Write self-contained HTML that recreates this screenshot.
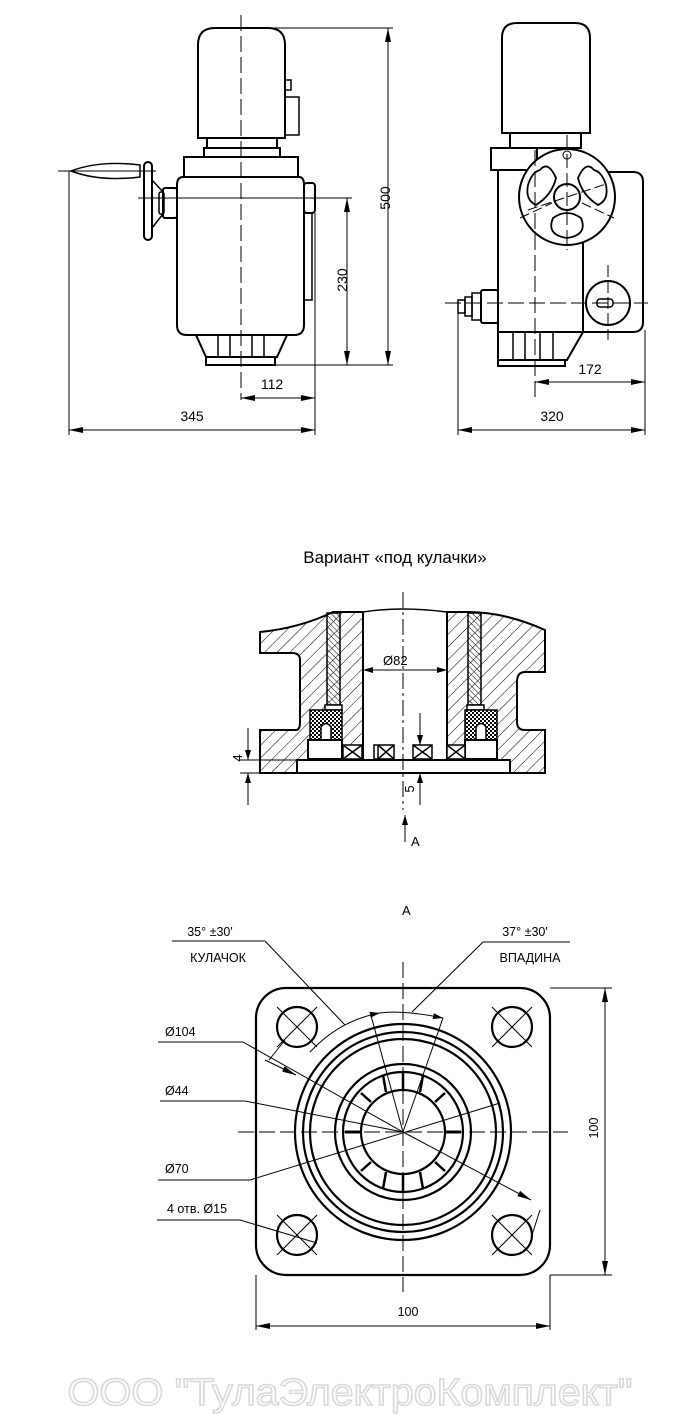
<!DOCTYPE html>
<html><head><meta charset="utf-8"><style>
html,body{margin:0;padding:0;background:#fff;}
svg{display:block;}
text{font-family:"Liberation Sans","DejaVu Sans",sans-serif;fill:#000;}
</style></head><body>
<svg width="700" height="1414" viewBox="0 0 700 1414" xmlns="http://www.w3.org/2000/svg">
<defs>
<pattern id="h" width="9" height="9" patternUnits="userSpaceOnUse" patternTransform="rotate(45)"><line x1="0" y1="0" x2="0" y2="9" stroke="#000" stroke-width="1"/></pattern>
<pattern id="h2" width="4" height="4" patternUnits="userSpaceOnUse" patternTransform="rotate(-45)"><line x1="0" y1="0" x2="0" y2="4" stroke="#000" stroke-width="1"/></pattern>
<pattern id="x" width="4" height="4" patternUnits="userSpaceOnUse"><rect width="4" height="4" fill="#fff"/><rect width="2" height="2" fill="#000"/><rect x="2" y="2" width="2" height="2" fill="#000"/></pattern>
<marker id="a" viewBox="0 0 10 6" refX="10" refY="3" markerWidth="10" markerHeight="6" orient="auto-start-reverse" markerUnits="userSpaceOnUse"><path d="M0,0 L10,3 L0,6 z" fill="#000"/></marker>
<marker id="b" viewBox="0 0 14 6" refX="14" refY="3" markerWidth="14" markerHeight="6" orient="auto-start-reverse" markerUnits="userSpaceOnUse"><path d="M0,0 L14,3 L0,6 z" fill="#000"/></marker>
</defs>

<g fill="none" stroke="#000" stroke-width="2">
<!-- LEFT VIEW -->
<path d="M198,138 V45 Q198,28 215,28 H268 Q285,28 285,45 V138 Z" fill="#fff"/>
<rect x="285" y="80" width="6" height="10" stroke-width="1.5"/>
<rect x="285" y="97" width="14" height="38" stroke-width="1.5"/>
<rect x="207" y="138" width="70" height="10"/>
<rect x="204" y="148" width="76" height="9"/>
<rect x="184" y="157" width="114" height="20"/>
<path d="M183,177 H299 Q304,177 304,185 V325 Q304,335 294,335 H187 Q177,335 177,325 V185 Q177,177 183,177 Z"/>
<rect x="304" y="183" width="11" height="30" rx="3"/>
<path d="M304,213 H312 V300 H304" stroke-width="1.5"/>
<rect x="163" y="188" width="14" height="30" rx="2"/>
<rect x="159" y="192" width="5" height="22" rx="2" stroke-width="1.5"/>
<path d="M163,192 L152,180 M163,214 L152,228" stroke-width="1.5"/>
<rect x="144" y="162" width="8" height="78" rx="4"/>
<path d="M71,171 Q100,160 140,165 V177 Q100,182 71,171 Z" stroke-width="1.5"/>
<line x1="58" y1="171" x2="156" y2="171" stroke-width="1"/>
<path d="M187,335 L196,335 L206,357 H277 L287,335 Z"/>
<path d="M196,335 L206,357 M287,335 L277,357 M218,335 V357 M230,335 V357 M252,335 V357 M264,335 V357" stroke-width="1.5"/>
<rect x="206" y="357" width="69" height="8"/>
<!-- right view -->
<path d="M502,133 V38 Q502,23 517,23 H575 Q590,23 590,38 V133 Z"/>
<rect x="510" y="133" width="71" height="15"/>
<rect x="491" y="148" width="46" height="22"/>
<path d="M498,170 V332 H583 M583,235 V332"/>
<path d="M583,172 H633 Q643,172 643,182 V322 Q643,332 633,332 H583"/>
<circle cx="567" cy="197" r="48" fill="#fff"/>
<circle cx="567" cy="197" r="13"/>
<path d="M540,170 Q548,160 556,178 Q552,195 536,205 Q525,200 528,185 Q532,172 540,170 Z" stroke-width="1.8"/>
<path d="M594,170 Q586,160 578,178 Q582,195 598,205 Q609,200 606,185 Q602,172 594,170 Z" stroke-width="1.8"/>
<path d="M553,218 Q567,208 581,218 Q588,235 567,238 Q546,235 553,218 Z" stroke-width="1.8"/>
<circle cx="567" cy="155" r="4" stroke-width="1"/>
<circle cx="608" cy="303" r="22"/>
<rect x="597" y="299" width="16" height="8" rx="3" stroke-width="1.5"/>
<rect x="481" y="290" width="17" height="33" rx="2"/>
<rect x="472" y="293" width="9" height="27" stroke-width="1.5"/>
<rect x="465" y="297" width="7" height="19" stroke-width="1.5"/>
<rect x="458" y="300" width="7" height="13" stroke-width="1.5"/>
<path d="M498,332 H583 L567,360 H498 Z"/>
<path d="M513,332 V360 M525,332 V360 M540,332 V360 M553,332 V360" stroke-width="1.5"/>
<rect x="498" y="360" width="67" height="6"/>
</g>
<g fill="none" stroke="#000" stroke-width="1">
<line x1="241" y1="15" x2="241" y2="400" stroke-dasharray="16,5"/>
<line x1="567" y1="135" x2="567" y2="250" stroke-dasharray="14,5"/>
<line x1="535" y1="150" x2="535" y2="398" stroke-dasharray="16,5"/>
<line x1="445" y1="303" x2="648" y2="303" stroke-dasharray="16,5"/>
<line x1="608" y1="265" x2="608" y2="340" stroke-dasharray="12,4"/>
<line x1="528" y1="210" x2="606" y2="184" stroke-dasharray="10,4"/>
<line x1="520" y1="218" x2="552" y2="203" stroke-dasharray="10,4"/>
<line x1="582" y1="203" x2="614" y2="218" stroke-dasharray="10,4"/>
<line x1="138" y1="198" x2="352" y2="198"/>
<line x1="245" y1="28" x2="393" y2="28"/>
<line x1="275" y1="365" x2="393" y2="365"/>
<line x1="347" y1="198" x2="347" y2="365" marker-start="url(#b)" marker-end="url(#b)"/>
<line x1="388" y1="28" x2="388" y2="365" marker-start="url(#b)" marker-end="url(#b)"/>
<line x1="69" y1="171" x2="69" y2="435"/>
<line x1="315" y1="213" x2="315" y2="435"/>
<line x1="241" y1="398" x2="315" y2="398" marker-start="url(#b)" marker-end="url(#b)"/>
<line x1="69" y1="430" x2="315" y2="430" marker-start="url(#b)" marker-end="url(#b)"/>
<line x1="458" y1="303" x2="458" y2="435"/>
<line x1="645" y1="330" x2="645" y2="435"/>
<line x1="535" y1="382" x2="645" y2="382" marker-start="url(#b)" marker-end="url(#b)"/>
<line x1="458" y1="430" x2="645" y2="430" marker-start="url(#b)" marker-end="url(#b)"/>
</g>
<g font-size="14">
<text x="383" y="205" transform="rotate(-90 383 198)" text-anchor="middle">500</text>
<text x="341" y="286" transform="rotate(-90 341 280)" text-anchor="middle">230</text>
<text x="272" y="389" text-anchor="middle">112</text>
<text x="192" y="421" text-anchor="middle">345</text>
<text x="590" y="374" text-anchor="middle">172</text>
<text x="552" y="421" text-anchor="middle">320</text>
</g>

<!-- SECTION -->
<text x="395" y="563" font-size="17" text-anchor="middle">Вариант «под кулачки»</text>
<g stroke="#000" stroke-width="2">
<path d="M260,632 Q300,628 333,612 L363,612 Q400,606 447,612 L468,612 Q505,612 545,630 V672 H525 Q517,672 517,682 V722 Q517,730 525,730 H545 V773 H260 V730 H296 Q300,730 300,722 V660 Q300,653 292,653 H260 Z" fill="url(#h)"/>
<rect x="363" y="608" width="84" height="153" fill="#fff" stroke="none"/>
<path d="M363,612 V760 M447,612 V760" fill="none"/>
<path d="M363,612 Q400,606 447,612" fill="none" stroke-width="1.5"/>
<rect x="327" y="613" width="13" height="92" fill="url(#h2)" stroke-width="1.5"/>
<rect x="468" y="613" width="13" height="92" fill="url(#h2)" stroke-width="1.5"/>
<rect x="325" y="705" width="17" height="5" fill="#fff" stroke-width="1.5"/>
<rect x="467" y="705" width="17" height="5" fill="#fff" stroke-width="1.5"/>
<path d="M310,710 H342 V740 H310 Z" fill="url(#x)" stroke-width="1.5"/>
<path d="M321,740 V727 Q326,720 331,727 V740" fill="#fff" stroke-width="1.5"/>
<path d="M465,710 H497 V740 H465 Z" fill="url(#x)" stroke-width="1.5"/>
<path d="M476,740 V727 Q481,720 486,727 V740" fill="#fff" stroke-width="1.5"/>
<rect x="308" y="740" width="34" height="19" fill="#fff"/>
<rect x="465" y="740" width="32" height="19" fill="#fff"/>
<rect x="297" y="760" width="213" height="13" fill="#fff"/>
<g fill="#fff" stroke-width="1.5">
<rect x="343" y="745" width="19" height="14"/><path d="M343,745 L362,759 M362,745 L343,759"/>
<rect x="374" y="745" width="20" height="14"/><path d="M378,745 V759 M378,745 L394,759 M394,745 L378,759"/>
<rect x="413" y="745" width="19" height="14"/><path d="M413,745 L432,759 M432,745 L413,759"/>
<rect x="447" y="745" width="18" height="14"/><path d="M447,745 L465,759 M465,745 L447,759"/>
</g>
</g>
<g stroke="#000" stroke-width="1" fill="none">
<line x1="403" y1="592" x2="403" y2="810" stroke-dasharray="16,4,3,4"/>
<line x1="363" y1="670" x2="447" y2="670" marker-start="url(#a)" marker-end="url(#a)"/>
<line x1="240" y1="760" x2="300" y2="760"/><line x1="240" y1="773" x2="260" y2="773"/>
<line x1="248" y1="728" x2="248" y2="760" marker-end="url(#a)"/>
<line x1="248" y1="805" x2="248" y2="773" marker-end="url(#a)"/>
<line x1="420" y1="713" x2="420" y2="745" marker-end="url(#a)"/>
<line x1="420" y1="805" x2="420" y2="773" marker-end="url(#a)"/>
<line x1="405" y1="842" x2="405" y2="815" marker-end="url(#a)"/>
</g>
<g font-size="13">
<text x="383" y="665">Ø82</text>
<text x="243" y="767" transform="rotate(-90 238 763)" text-anchor="middle">4</text>
<text x="414" y="797" transform="rotate(-90 410 793)" text-anchor="middle">5</text>
<text x="411" y="846">A</text>
<text x="402" y="915">A</text>
</g>

<!-- VIEW A -->
<g fill="none" stroke="#000" stroke-width="2.2">
<rect x="256" y="988" width="294" height="287" rx="30"/>
<circle cx="297" cy="1027" r="20"/><circle cx="512" cy="1027" r="20"/>
<circle cx="297" cy="1235" r="20"/><circle cx="512" cy="1235" r="20"/>
<circle cx="403" cy="1132" r="108"/>
<circle cx="403" cy="1132" r="100"/>
<circle cx="403" cy="1132" r="93"/>
<circle cx="403" cy="1132" r="68"/>
<circle cx="403" cy="1132" r="60"/>
<circle cx="403" cy="1132" r="42"/>
</g>
<g stroke="#000" stroke-width="2.5">
<path d="M345,1132 H361 M445,1132 H461" stroke-width="3"/>
<path d="M403,1072 V1090 M403,1174 V1192 M361,1093 L371,1102 M445,1093 L435,1102 M361,1171 L371,1162 M445,1171 L435,1162 M383,1075 L386,1092 M423,1075 L420,1092 M383,1189 L386,1172 M423,1189 L420,1172"/>
</g>
<g stroke="#000" stroke-width="1" fill="none">
<line x1="403" y1="962" x2="403" y2="1292" stroke-dasharray="16,5"/>
<line x1="238" y1="1132" x2="568" y2="1132" stroke-dasharray="16,5"/>
<path d="M277,1007 L317,1047 M317,1007 L277,1047 M492,1007 L532,1047 M532,1007 L492,1047 M277,1215 L317,1255 M317,1215 L277,1255 M492,1215 L532,1255 M532,1215 L492,1255"/>
<path d="M269,1060 L285,1040 M540,1210 L532,1235"/>
<line x1="172" y1="941" x2="265" y2="941"/><line x1="265" y1="941" x2="345" y2="1025"/>
<line x1="483" y1="942" x2="570" y2="942"/><line x1="483" y1="942" x2="412" y2="1012"/>
<path d="M310,1052 Q340,1020 380,1013" marker-end="url(#a)"/>
<path d="M380,1013 Q403,1010 443,1018" marker-end="url(#a)"/>
<line x1="403" y1="1132" x2="370" y2="1012"/>
<line x1="403" y1="1132" x2="443" y2="1018"/>
<line x1="158" y1="1042" x2="243" y2="1042"/><line x1="243" y1="1042" x2="403" y2="1132"/>
<line x1="265" y1="1060" x2="296" y2="1075" marker-end="url(#b)"/>
<line x1="403" y1="1132" x2="531" y2="1200" marker-end="url(#b)"/>
<line x1="160" y1="1101" x2="245" y2="1101"/><line x1="245" y1="1101" x2="403" y2="1132"/>
<line x1="158" y1="1180" x2="250" y2="1180"/><line x1="250" y1="1180" x2="500" y2="1103"/>
<line x1="157" y1="1220" x2="240" y2="1220"/><line x1="240" y1="1220" x2="317" y2="1243"/>
<line x1="550" y1="988" x2="612" y2="988"/><line x1="550" y1="1275" x2="612" y2="1275"/>
<line x1="605" y1="988" x2="605" y2="1275" marker-start="url(#b)" marker-end="url(#b)"/>
<line x1="256" y1="1275" x2="256" y2="1330"/><line x1="550" y1="1275" x2="550" y2="1330"/>
<line x1="256" y1="1326" x2="550" y2="1326" marker-start="url(#b)" marker-end="url(#b)"/>
</g>
<g font-size="12.5">
<text x="210" y="936" text-anchor="middle">35° ±30'</text>
<text x="218" y="962" text-anchor="middle">КУЛАЧОК</text>
<text x="525" y="936" text-anchor="middle">37° ±30'</text>
<text x="530" y="962" text-anchor="middle">ВПАДИНА</text>
<text x="165" y="1036">Ø104</text>
<text x="165" y="1095">Ø44</text>
<text x="165" y="1173">Ø70</text>
<text x="167" y="1213">4 отв. Ø15</text>
<text x="598" y="1136" transform="rotate(-90 594 1132)" text-anchor="middle">100</text>
<text x="408" y="1316" text-anchor="middle">100</text>
</g>
<text x="350" y="1405" font-size="38" text-anchor="middle" style="fill:#fff;stroke:#d8d8d8;stroke-width:1.5" textLength="565" lengthAdjust="spacingAndGlyphs">ООО "ТулаЭлектроКомплект"</text>
</svg>
</body></html>
